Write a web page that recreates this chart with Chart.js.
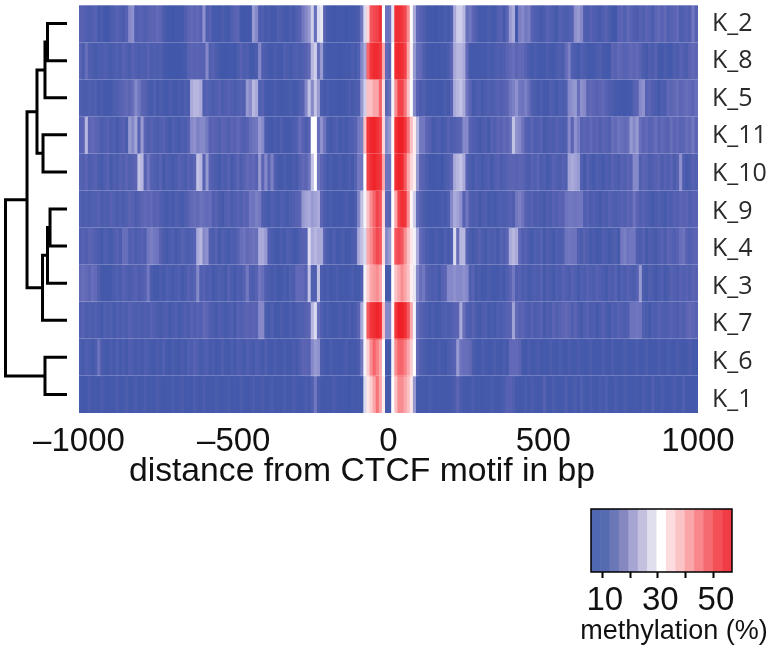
<!DOCTYPE html>
<html><head><meta charset="utf-8"><title>Methylation around CTCF motifs</title>
<script src="https://cdn.jsdelivr.net/npm/chart.js@4"></script>
<style>html,body{margin:0;padding:0;background:#fff;width:771px;height:650px;overflow:hidden}canvas{position:absolute}</style>
</head><body>
<canvas id="tree" style="left:0;top:0" width="79" height="420"></canvas>
<canvas id="heat" style="left:0;top:0" width="771" height="495"></canvas>
<canvas id="key" style="left:570px;top:495px" width="201" height="155"></canvas>
<script>
const rowNames = ["K_2","K_8","K_5","K_11","K_10","K_9","K_4","K_3","K_7","K_6","K_1"];
const axisTicks = [-1000,-500,0,500,1000];
const K_2 = [13,13,12,11,12,13,10,11,8,8,11,12,13,12,11,13,20,21,12,13,
13,12,13,14,14,15,14,11,9,9,8,9,10,9,12,14,15,14,15,13,
21,12,13,10,10,9,11,10,9,12,13,14,9,8,9,9,22,20,11,12,
10,11,9,10,12,11,10,9,11,10,12,13,18,20,22,27,16,28,29,13,
10,9,8,9,10,9,8,10,9,10,11,18,28,36,46,47,48,52,31,17,
17,29,52,52,50,47,42,31,24,15,13,12,10,9,9,8,10,9,11,10,
12,24,27,27,25,16,18,14,12,10,9,9,11,10,9,12,13,10,14,22,
24,9,19,20,18,19,13,12,11,10,11,13,12,11,10,13,12,11,12,13,
21,22,20,12,11,13,12,11,10,12,13,11,9,8,13,14,12,15,13,12,
11,13,12,14,13,11,14,15,13,15,12,13,14,15,11,12,13,12,18,13];
const K_8 = [14,11,16,12,11,10,11,11,12,11,10,11,12,11,13,12,11,13,12,11,
12,11,13,11,12,11,12,10,9,8,8,8,8,9,10,13,14,13,14,13,
13,20,12,13,11,10,8,8,9,9,8,11,13,11,12,10,10,11,20,12,
11,10,9,11,10,9,12,11,10,11,12,11,12,13,15,25,27,16,22,11,
10,9,10,9,8,9,10,9,11,10,12,20,24,45,50,53,53,50,40,15,
14,31,53,54,52,48,40,32,22,16,15,12,10,9,8,9,8,10,9,11,
14,24,25,25,24,15,10,9,10,9,10,9,11,10,11,12,11,12,14,15,
16,14,15,15,13,11,10,11,10,9,10,11,10,9,11,12,11,15,19,12,
11,10,12,11,10,9,10,11,12,10,9,9,14,13,15,14,13,14,15,14,
15,13,11,10,12,11,13,10,9,11,10,9,12,11,13,12,11,14,15,14];
const K_5 = [12,11,11,12,11,12,10,11,9,9,10,11,12,13,14,15,14,16,20,18,
14,13,11,10,12,10,11,10,9,11,10,9,11,10,12,11,24,25,25,24,
12,13,12,11,12,13,11,12,13,12,11,12,13,12,22,20,25,24,12,13,
10,9,10,11,10,9,10,10,11,9,10,12,13,20,26,20,26,22,11,10,
11,9,10,9,8,9,10,11,10,11,12,22,27,38,38,40,40,45,35,14,
16,30,42,48,48,44,38,31,20,13,11,12,10,9,10,9,8,9,11,10,
13,24,25,26,24,17,14,10,11,12,10,11,12,11,12,13,12,13,14,18,
19,21,18,17,19,16,12,11,10,11,9,10,12,11,10,12,11,12,20,21,
22,16,21,20,14,15,14,13,14,15,13,12,11,10,9,9,8,9,10,13,
14,20,21,13,14,12,11,10,12,11,15,14,15,16,14,15,16,15,14,16];
const K_11 = [13,14,25,14,15,14,13,11,12,13,11,12,10,12,13,11,22,20,23,13,
22,14,12,13,12,11,12,13,11,10,12,11,10,12,11,13,20,21,19,20,
20,18,13,14,13,12,14,13,12,14,13,15,13,12,13,16,17,18,22,20,
11,10,9,11,10,12,10,9,10,11,12,16,13,11,13,31,31,16,21,17,
11,10,11,12,10,11,10,11,12,13,18,19,38,50,54,55,52,48,36,20,
22,32,52,56,56,50,44,38,33,25,18,18,14,13,10,11,12,10,11,13,
11,12,13,14,20,20,13,12,11,10,11,12,10,13,12,14,13,15,14,16,
26,21,20,17,13,12,14,11,12,13,10,11,12,11,13,12,11,12,20,14,
21,19,13,14,13,15,13,14,12,14,13,12,16,15,17,16,15,16,22,20,
22,16,14,15,13,14,16,13,15,14,13,16,14,15,13,14,16,15,18,14];
const K_10 = [13,12,14,11,12,13,11,10,12,13,10,12,11,13,12,14,12,13,14,26,
25,13,18,13,12,11,13,10,12,11,10,11,13,12,11,13,12,14,26,25,
13,22,13,12,11,10,12,11,13,10,12,14,11,13,15,14,15,13,22,14,
20,14,19,12,10,9,11,10,9,11,10,13,15,14,17,26,31,18,14,12,
10,11,9,10,11,9,10,11,10,13,18,18,31,48,52,55,52,50,40,17,
17,31,52,55,54,46,40,36,33,22,14,13,11,9,8,9,10,8,11,12,
14,24,25,26,24,13,11,10,12,11,10,11,12,10,12,13,11,12,13,14,
14,13,14,14,12,11,13,12,14,11,12,10,11,13,12,11,13,12,23,24,
23,22,12,10,13,11,10,12,11,10,12,11,13,12,11,13,12,14,13,20,
20,12,14,13,11,12,13,14,11,13,12,14,11,13,21,12,10,11,13,12];
const K_9 = [12,11,12,11,12,12,13,11,12,11,13,12,11,12,11,12,14,13,11,12,
14,15,14,15,13,14,12,11,10,11,10,12,11,10,12,13,15,16,15,17,
16,15,16,12,13,11,10,12,13,11,12,13,12,14,13,18,17,19,18,12,
11,10,12,11,10,12,11,10,11,12,13,14,22,23,24,22,23,24,14,11,
10,11,9,10,9,10,11,10,9,11,20,26,30,38,42,45,48,46,36,14,
13,31,40,48,52,50,42,32,27,16,13,11,10,9,10,9,10,11,10,12,
20,24,23,21,13,18,12,11,12,10,11,12,10,11,10,11,12,11,12,13,
12,18,19,17,13,12,13,11,12,11,10,12,11,13,12,14,13,17,18,18,
17,18,18,12,13,11,12,11,10,12,11,13,12,11,12,13,12,14,13,17,
14,12,13,12,11,10,11,12,11,10,12,11,13,12,14,13,14,12,13,13];
const K_4 = [12,13,12,14,13,12,11,10,12,11,10,12,13,11,16,16,12,13,11,12,
13,12,18,19,18,17,13,11,10,11,12,10,11,13,12,11,12,13,24,25,
20,21,12,11,13,10,12,11,10,12,11,13,16,17,15,16,17,16,24,24,
22,12,11,10,9,11,10,12,11,9,10,12,13,13,28,24,25,24,24,13,
11,10,12,9,10,11,9,10,11,12,24,26,28,40,42,45,47,46,35,20,
22,32,46,47,46,42,38,34,30,24,15,13,11,10,9,11,10,9,12,10,
12,28,16,25,25,13,11,10,11,13,11,10,12,11,12,10,13,12,14,24,
25,24,15,12,13,11,10,12,11,13,10,12,11,10,12,11,12,17,18,17,
17,12,11,13,12,10,11,9,10,12,11,10,11,12,10,18,19,17,18,18,
12,11,13,10,12,11,10,12,13,11,14,13,12,13,16,17,13,12,13,14];
const K_3 = [15,16,15,14,16,15,12,10,9,9,10,11,12,11,13,12,11,12,13,11,
12,13,18,11,10,9,11,10,12,11,10,11,12,10,11,13,12,13,20,12,
13,11,12,10,11,12,11,10,13,11,10,12,11,13,18,12,11,13,18,16,
12,11,10,11,9,10,11,10,12,11,15,15,15,13,26,12,12,26,11,10,
11,9,10,11,9,10,9,10,11,9,10,12,30,37,40,41,42,40,32,10,
10,31,38,40,42,40,38,33,29,20,16,18,13,12,11,12,10,13,14,20,
20,21,20,20,21,20,12,13,10,11,9,10,11,10,9,10,11,10,12,14,
18,12,13,11,12,10,11,12,11,13,10,12,11,10,12,11,13,12,11,13,
12,10,12,11,13,12,11,13,12,11,10,12,11,13,10,12,11,13,12,11,
13,22,11,10,12,11,9,11,12,10,11,13,12,11,13,12,13,12,14,13];
const K_7 = [12,13,11,12,11,12,11,10,12,11,12,10,12,11,12,11,13,12,11,12,
11,12,11,13,12,11,10,11,12,10,11,12,10,11,12,11,13,12,13,12,
15,14,12,11,10,12,11,10,11,12,10,13,12,13,14,13,14,13,20,20,
11,10,12,10,9,11,10,9,11,10,11,12,12,13,14,25,28,16,12,10,
11,10,9,10,11,9,10,11,9,11,14,24,30,46,50,52,55,52,38,20,
20,32,50,56,56,52,46,40,30,16,13,12,11,10,11,9,10,11,12,11,
12,13,14,24,16,12,11,13,11,10,11,12,10,11,10,12,11,12,13,13,
23,15,13,14,12,11,13,11,12,13,10,12,11,14,12,13,14,15,14,12,
14,11,10,12,13,11,12,10,11,13,11,10,12,11,13,12,11,12,17,17,
18,17,12,11,10,12,11,13,12,11,12,13,12,11,13,12,14,15,14,13];
const K_6 = [11,10,12,11,10,11,17,11,10,9,11,10,12,10,11,9,12,11,10,11,
10,12,11,10,9,11,10,12,10,9,11,10,9,11,10,12,11,13,12,10,
11,12,10,11,9,10,12,10,9,11,10,12,11,10,12,11,10,12,11,10,
12,10,9,11,10,9,11,10,9,11,10,12,14,14,13,20,22,21,11,10,
9,11,9,10,9,10,11,9,10,9,11,18,30,37,42,45,43,40,31,9,
9,30,42,45,45,43,40,37,31,15,12,11,10,9,10,9,11,10,9,11,
12,13,22,17,16,16,15,11,10,9,11,10,9,10,11,10,9,11,10,15,
15,15,14,10,9,11,9,10,11,9,10,9,11,10,9,11,10,9,11,10,
9,11,10,9,10,11,9,10,9,11,10,9,11,10,9,10,11,10,9,10,
11,9,10,11,9,10,9,11,10,9,11,10,9,11,10,9,10,11,10,9];
const K_1 = [10,9,10,11,9,10,9,11,10,9,10,9,11,9,10,11,9,10,11,9,
10,11,9,10,9,11,10,9,10,9,11,9,10,11,9,10,9,11,10,9,
11,9,10,9,11,10,9,10,11,9,10,9,11,10,9,10,11,9,10,11,
9,10,11,9,10,9,11,10,9,11,10,9,10,11,10,12,18,11,10,9,
10,9,11,10,9,10,9,8,10,9,10,10,28,34,37,40,44,40,33,10,
10,31,38,42,42,40,38,34,22,10,9,10,9,11,10,9,10,9,10,9,
10,11,14,11,10,9,10,11,9,10,9,10,9,11,10,9,10,11,13,13,
12,10,9,10,11,9,11,10,9,10,13,10,9,11,10,9,10,12,9,10,
11,9,12,10,9,11,10,9,11,10,12,10,9,11,10,9,11,10,9,10,
10,9,11,10,9,12,10,9,11,10,9,10,11,9,10,12,9,10,9,10];
const rows = [K_2,K_8,K_5,K_11,K_10,K_9,K_4,K_3,K_7,K_6,K_1];
// Dendrogram merges: [child, child, height]; a child >=0 is a row, a negative child -n is merge n-1
const merges = [[0,1,0.317],[-1,2,0.358],[3,4,0.39],[-2,-3,0.488],[5,6,0.276],[-5,7,0.317],[-6,8,0.398],[-4,-7,0.65],[9,10,0.358],[-8,-9,1]];
const keyLabels = ["6","9","13","16","19","23","26","30","33","36","40","43","46","50","53"];
const keyColors = ["#5068B0","#566CB2","#6B78B8","#8488BF","#A5A4D2","#C4C0E0","#DFDFEE","#FFFFFF","#FDDCE0","#FAC3C6","#FAA5A8","#F8878C","#F56970","#F35058","#F03C44"];
const keyTicks = [10,20,30,40,50];
const keyLabelled = [10,30,50];

const stops = [[6,[60,85,168]],[10,[70,90,172]],[14,[92,100,180]],[18,[114,120,192]],[24,[170,170,218]],[31,[255,255,255]],[37,[252,205,208]],[44,[247,115,120]],[47,[243,72,80]],[50,[241,55,60]],[56.7,[238,28,36]]];
function colour(v){
  for(let i=1;i<stops.length;i++){ if(v<=stops[i][0]){
    const a=stops[i-1],b=stops[i],t=Math.max(0,(v-a[0])/(b[0]-a[0]));
    return 'rgb('+a[1].map((c,k)=>Math.round(c+(b[1][k]-c)*t)).join(',')+')';
  }}
  return 'rgb(238,28,36)';
}
const caption = {id:'caption',afterDraw(c,_,o){const x=c.ctx;x.save();x.font=o.font;x.fillStyle=o.color;x.textAlign='center';x.textBaseline='middle';x.fillText(o.text,o.x,o.y);x.restore();}};
const frame = {id:'frame',afterDatasetsDraw(c){const x=c.ctx,a=c.chartArea;x.save();x.strokeStyle='#000';x.lineWidth=1.5;x.strokeRect(a.left,a.top,a.width,a.height);x.restore();}};
// the row labels in the reference are spaced slightly wider than the rows themselves
const labelSpread = {id:'labelSpread',afterLayout(c){const s=c.scales.yRows;s.top=4.7;s.bottom=418.3;s.configure();}};
const fix = (w,h)=>(s)=>{ if(w!=null) s.width=w; if(h!=null) s.height=h; s.paddingTop=0; s.paddingBottom=0; s.paddingLeft=0; s.paddingRight=0; };
const SANS='"Liberation Sans",Arial,sans-serif';

const columns = rows[0].map((_,i)=>-1000+10*i+5);
new Chart(document.getElementById('heat'),{
  type:'bar',
  data:{labels:columns,datasets:rows.map((r,i)=>({label:rowNames[i],data:r.map(()=>[i,i+1]),backgroundColor:r.map(colour),borderWidth:0,barPercentage:1,categoryPercentage:1,grouped:false,inflateAmount:0.4}))},
  options:{responsive:false,animation:false,
    layout:{padding:{left:79,top:5,right:0,bottom:0}},
    plugins:{legend:{display:false},tooltip:{enabled:false},
      caption:{text:'distance from CTCF motif in bp',x:362,y:472,font:'33.7px '+SANS,color:'#111'}},
    scales:{
      x:{type:'category',display:false,offset:true},
      xBp:{type:'linear',position:'bottom',offset:false,min:-1000,max:1000,afterFit:fix(null,82),afterBuildTicks(s){s.ticks=axisTicks.map(v=>({value:v}));},
        grid:{display:false,drawTicks:false,offset:false},border:{display:false},
        ticks:{autoSkip:false,maxRotation:0,padding:9,color:'#111',font:{family:SANS,size:33},callback:v=>String(v).replace('-','\u2013')}},
      y:{type:'linear',position:'left',min:0,max:11,reverse:true,afterFit:fix(0,null),
        grid:{display:true,color:'rgba(255,255,255,0.22)',lineWidth:1,drawTicks:false,z:1},border:{display:false},
        ticks:{display:false,stepSize:1}},
      yRows:{type:'category',position:'right',labels:rowNames,offset:true,afterFit:fix(73,null),
        grid:{display:false,drawTicks:false},border:{display:false},
        ticks:{padding:14,color:'#2a2a2a',align:'center',crossAlign:'near',font:{family:'"Open Sans",sans-serif',size:25}}}
    }},
  plugins:[caption,labelSpread]
});

const pos=[];
function locate(ch){ if(ch>=0) return {y:ch+0.5,h:0}; return pos[-ch-1]; }
const treeSets = merges.map(m=>{
  const a=locate(m[0]),b=locate(m[1]);
  pos.push({y:(a.y+b.y)/2,h:m[2]});
  return {data:[{x:a.h,y:a.y},{x:m[2],y:a.y},{x:m[2],y:b.y},{x:b.h,y:b.y}],showLine:true,pointRadius:0,borderColor:'#000',borderWidth:3,borderJoinStyle:'miter',borderCapStyle:'butt',clip:false,tension:0};
});
new Chart(document.getElementById('tree'),{
  type:'scatter',data:{datasets:treeSets},
  options:{responsive:false,animation:false,layout:{padding:{left:5.5,right:12,top:5,bottom:7}},
    plugins:{legend:{display:false},tooltip:{enabled:false}},
    scales:{x:{type:'linear',min:0,max:1,reverse:true,display:false},y:{type:'linear',min:0,max:11,reverse:true,display:false}}}
});

new Chart(document.getElementById('key'),{
  type:'bar',
  data:{labels:keyLabels,datasets:[{data:keyLabels.map(()=>[0,1]),backgroundColor:keyColors,borderWidth:0,barPercentage:1,categoryPercentage:1,inflateAmount:0.3}]},
  options:{responsive:false,animation:false,
    layout:{padding:{left:21,right:39,top:14,bottom:0}},
    plugins:{legend:{display:false},tooltip:{enabled:false},
      caption:{text:'methylation (%)',x:104,y:137,font:'27px '+SANS,color:'#111'}},
    scales:{
      x:{type:'category',display:false,offset:true},
      y:{type:'linear',min:0,max:1,display:false},
      xVal:{type:'linear',position:'bottom',offset:false,min:5.95,max:56.7,afterFit:fix(null,78),afterBuildTicks(s){s.ticks=keyTicks.map(v=>({value:v}));},
        grid:{drawOnChartArea:false,drawTicks:true,tickLength:6,tickColor:'#000',tickWidth:2,offset:false},border:{display:false},
        ticks:{autoSkip:false,maxRotation:0,padding:3,labelOffset:2.5,color:'#111',font:{family:SANS,size:33},callback:v=>keyLabelled.includes(v)?String(v):''}}
    }},
  plugins:[caption,frame]
});
</script></body></html>
